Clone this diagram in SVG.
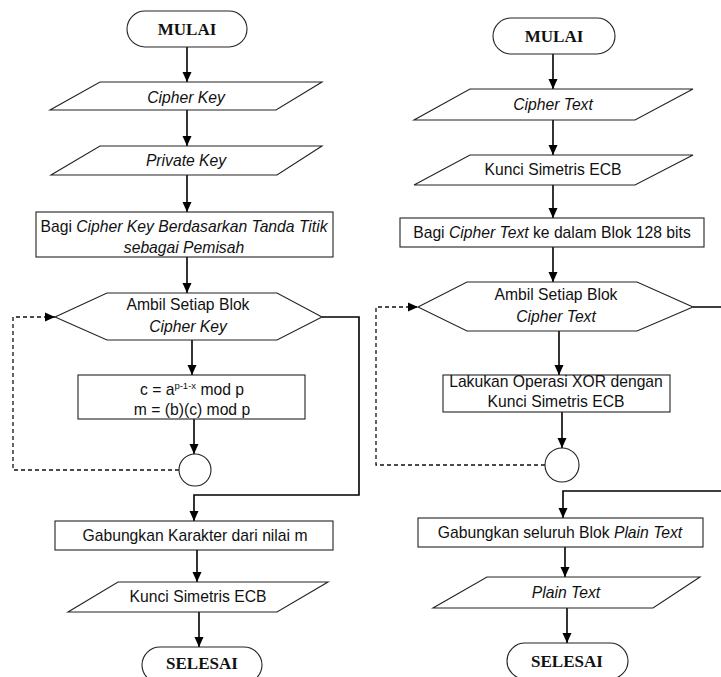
<svg xmlns="http://www.w3.org/2000/svg" width="721" height="677" viewBox="0 0 721 677">
<defs>
<marker id="ah" viewBox="0 0 10 10" refX="10" refY="5" markerWidth="10" markerHeight="10" markerUnits="userSpaceOnUse" orient="auto">
<path d="M0,0.5 L10,5 L0,9.5 z" fill="#000"/>
</marker>
<style>
.sh{fill:#fff;stroke:#222;stroke-width:1.1}
.c{fill:none;stroke:#000;stroke-width:1.6}
.d{fill:none;stroke:#111;stroke-width:1.3;stroke-dasharray:4 3}
.t{font-family:"Liberation Sans",Arial,sans-serif;font-size:15.7px;fill:#111;text-anchor:middle}
.tt{font-family:"Liberation Serif","Times New Roman",serif;font-size:17px;font-weight:bold;fill:#111;text-anchor:middle}
.i{font-style:italic}
</style>
</defs>
<rect width="721" height="677" fill="#fff"/>

<g id="connectors">
<line class="c" x1="187" y1="47" x2="187" y2="82" marker-end="url(#ah)"/>
<line class="c" x1="187" y1="110" x2="187" y2="146" marker-end="url(#ah)"/>
<line class="c" x1="187" y1="175" x2="187" y2="212" marker-end="url(#ah)"/>
<line class="c" x1="187" y1="257" x2="187" y2="293" marker-end="url(#ah)"/>
<line class="c" x1="192" y1="340" x2="192" y2="375" marker-end="url(#ah)"/>
<line class="c" x1="194" y1="419" x2="194" y2="454" marker-end="url(#ah)"/>
<path class="d" d="M179,470 H13 V317 H55" marker-end="url(#ah)"/>
<path class="c" d="M322,317 H359 V495 H194 V521" marker-end="url(#ah)"/>
<line class="c" x1="197" y1="550" x2="197" y2="582" marker-end="url(#ah)"/>
<line class="c" x1="199" y1="612" x2="199" y2="647" marker-end="url(#ah)"/>

<line class="c" x1="553" y1="54" x2="553" y2="89" marker-end="url(#ah)"/>
<line class="c" x1="553" y1="120" x2="553" y2="155" marker-end="url(#ah)"/>
<line class="c" x1="553" y1="185" x2="553" y2="218" marker-end="url(#ah)"/>
<line class="c" x1="553" y1="247" x2="553" y2="282" marker-end="url(#ah)"/>
<line class="c" x1="559" y1="331" x2="559" y2="375" marker-end="url(#ah)"/>
<line class="c" x1="562" y1="412" x2="562" y2="448" marker-end="url(#ah)"/>
<path class="d" d="M545,465 H376 V307 H418" marker-end="url(#ah)"/>
<path class="c" d="M693,307 H724 V491 H563 V518" marker-end="url(#ah)"/>
<line class="c" x1="565" y1="547" x2="565" y2="577" marker-end="url(#ah)"/>
<line class="c" x1="567" y1="608" x2="567" y2="643" marker-end="url(#ah)"/>
</g>

<g id="l-mulai">
<rect class="sh" x="127" y="11" width="120" height="36" rx="18"/>
<text class="tt" x="187" y="35">MULAI</text>
</g>
<g id="l-cipherkey">
<polygon class="sh" points="100,82 322,82 276,110 50,110"/>
<text class="t i" x="186" y="103">Cipher Key</text>
</g>
<g id="l-privatekey">
<polygon class="sh" points="100,146 322,146 277,175 51,175"/>
<text class="t i" x="186" y="166">Private Key</text>
</g>
<g id="l-bagi">
<rect class="sh" x="36" y="212" width="297" height="45"/>
<text class="t" x="184" y="232">Bagi <tspan class="i">Cipher Key Berdasarkan Tanda Titik</tspan></text>
<text class="t i" x="184" y="253">sebagai Pemisah</text>
</g>
<g id="l-ambil">
<polygon class="sh" points="55,317 107,293 277,293 322,317 277,340 107,340"/>
<text class="t" x="188" y="310">Ambil Setiap Blok</text>
<text class="t i" x="188" y="332">Cipher Key</text>
</g>
<g id="l-proses">
<rect class="sh" x="78" y="375" width="227" height="44"/>
<text class="t" x="192" y="395">c = a<tspan font-size="9.5" dy="-6">p-1-x</tspan><tspan dy="6"> mod p</tspan></text>
<text class="t" x="192" y="415">m = (b)(c) mod p</text>
</g>
<g id="l-konektor">
<circle class="sh" cx="195" cy="470" r="16"/>
</g>
<g id="l-gabung">
<rect class="sh" x="55" y="521" width="278" height="29"/>
<text class="t" x="195" y="541">Gabungkan Karakter dari nilai m</text>
</g>
<g id="l-kunci">
<polygon class="sh" points="118,582 328,582 277,612 68,612"/>
<text class="t" x="198" y="602">Kunci Simetris ECB</text>
</g>
<g id="l-selesai">
<rect class="sh" x="142" y="647" width="120" height="36" rx="18"/>
<text class="tt" x="202" y="669">SELESAI</text>
</g>

<g id="r-mulai">
<rect class="sh" x="493" y="18" width="122" height="36" rx="18"/>
<text class="tt" x="554" y="42">MULAI</text>
</g>
<g id="r-ciphertext">
<polygon class="sh" points="470,89 693,89 635,120 414,120"/>
<text class="t i" x="553" y="110">Cipher Text</text>
</g>
<g id="r-kunci">
<polygon class="sh" points="470,155 693,155 635,185 414,185"/>
<text class="t" x="553" y="175">Kunci Simetris ECB</text>
</g>
<g id="r-bagi">
<rect class="sh" x="400" y="218" width="304" height="29"/>
<text class="t" x="552" y="238">Bagi <tspan class="i">Cipher Text</tspan> ke dalam Blok 128 bits</text>
</g>
<g id="r-ambil">
<polygon class="sh" points="418,307 467,282 637,282 693,307 637,331 467,331"/>
<text class="t" x="556" y="300">Ambil Setiap Blok</text>
<text class="t i" x="556" y="322">Cipher Text</text>
</g>
<g id="r-xor">
<rect class="sh" x="443" y="375" width="227" height="37"/>
<text class="t" x="556" y="387">Lakukan Operasi XOR dengan</text>
<text class="t" x="556" y="407">Kunci Simetris ECB</text>
</g>
<g id="r-konektor">
<circle class="sh" cx="562" cy="465" r="17"/>
</g>
<g id="r-gabung">
<rect class="sh" x="418" y="518" width="285" height="29"/>
<text class="t" x="560" y="538">Gabungkan seluruh Blok <tspan class="i">Plain Text</tspan></text>
</g>
<g id="r-plaintext">
<polygon class="sh" points="487,577 700,577 653,608 433,608"/>
<text class="t i" x="566" y="598">Plain Text</text>
</g>
<g id="r-selesai">
<rect class="sh" x="507" y="643" width="121" height="36" rx="18"/>
<text class="tt" x="567" y="667">SELESAI</text>
</g>
</svg>
